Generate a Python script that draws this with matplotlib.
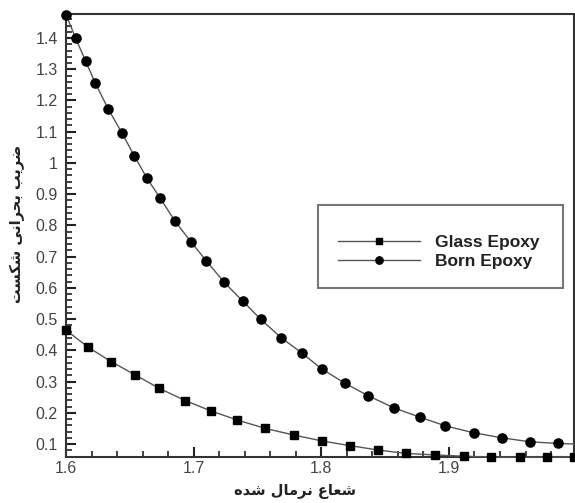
import matplotlib
matplotlib.use('Agg')
import matplotlib.pyplot as plt
from matplotlib.patches import Rectangle
from matplotlib.ticker import MultipleLocator

# Born Epoxy curve (circle symbols), last point is the curve end without a symbol
born_x = [1.600, 1.6076, 1.6155, 1.623, 1.6332, 1.6437, 1.6536, 1.6633, 1.6737,
          1.6853, 1.6978, 1.7098, 1.7239, 1.7383, 1.7524, 1.7684, 1.7849, 1.8005,
          1.8188, 1.8366, 1.8573, 1.8773, 1.8973, 1.9195, 1.9414, 1.9637, 1.9856,
          1.998]
born_y = [1.475, 1.399, 1.325, 1.255, 1.172, 1.097, 1.022, 0.952, 0.888,
          0.814, 0.748, 0.687, 0.618, 0.558, 0.500, 0.441, 0.391, 0.340,
          0.294, 0.255, 0.215, 0.186, 0.158, 0.136, 0.120, 0.107, 0.102,
          0.100]

# Glass Epoxy curve (square symbols)
glass_x = [1.600, 1.6173, 1.6353, 1.6539, 1.6732, 1.6935, 1.7135, 1.7341, 1.7561,
           1.7783, 1.8004, 1.8222, 1.8442, 1.8661, 1.8892, 1.9115, 1.9333, 1.9553,
           1.9771, 1.9982]
glass_y = [0.465, 0.410, 0.364, 0.322, 0.278, 0.239, 0.206, 0.177, 0.150,
           0.129, 0.110, 0.095, 0.081, 0.070, 0.065, 0.061, 0.058, 0.058,
           0.058, 0.059]

labels = ['Glass Epoxy', 'Born Epoxy']
xlabel = 'شعاع نرمال شده'
ylabel = 'ضریب بحرانی شکست'

# Arabic presentation forms: isolated, final, initial, medial
FORMS = {
    'ا': ('\uFE8D', '\uFE8E', None, None),
    'ب': ('\uFE8F', '\uFE90', '\uFE91', '\uFE92'),
    'ت': ('\uFE95', '\uFE96', '\uFE97', '\uFE98'),
    'ح': ('\uFEA1', '\uFEA2', '\uFEA3', '\uFEA4'),
    'د': ('\uFEA9', '\uFEAA', None, None),
    'ر': ('\uFEAD', '\uFEAE', None, None),
    'س': ('\uFEB1', '\uFEB2', '\uFEB3', '\uFEB4'),
    'ش': ('\uFEB5', '\uFEB6', '\uFEB7', '\uFEB8'),
    'ض': ('\uFEBD', '\uFEBE', '\uFEBF', '\uFEC0'),
    'ع': ('\uFEC9', '\uFECA', '\uFECB', '\uFECC'),
    'ل': ('\uFEDD', '\uFEDE', '\uFEDF', '\uFEE0'),
    'م': ('\uFEE1', '\uFEE2', '\uFEE3', '\uFEE4'),
    'ن': ('\uFEE5', '\uFEE6', '\uFEE7', '\uFEE8'),
    'ه': ('\uFEE9', '\uFEEA', '\uFEEB', '\uFEEC'),
    'ک': ('\uFB8E', '\uFB8F', '\uFB90', '\uFB91'),
    'ی': ('\uFBFC', '\uFBFD', '\uFBFE', '\uFBFF'),
}


def shape(text):
    '''Join the letters and put them in visual (left to right) order.'''
    words = []
    for word in text.split(' '):
        shaped = []
        for i, c in enumerate(word):
            iso, fin, ini, med = FORMS[c]
            prev_joins = i > 0 and FORMS[word[i - 1]][2] is not None
            next_joins = i < len(word) - 1 and ini is not None
            if prev_joins and next_joins:
                shaped.append(med)
            elif prev_joins:
                shaped.append(fin)
            elif next_joins:
                shaped.append(ini)
            else:
                shaped.append(iso)
        words.append(''.join(reversed(shaped)))
    return ' '.join(reversed(words))


plt.rcParams['font.family'] = ['Liberation Sans', 'DejaVu Sans']

fig = plt.figure(figsize=(5.75, 5.03), dpi=100)
ax = fig.add_axes([0.1148, 0.0924, 0.8835, 0.8798])

ax.plot(glass_x, glass_y, color='#555555', lw=1.0, marker='s', ms=5.8,
        mfc='black', mec='black', clip_on=False, zorder=3, label=labels[0])
ax.plot(born_x, born_y, color='#555555', lw=1.0, marker='o', ms=6.6,
        mfc='black', mec='black', markevery=list(range(len(born_x) - 1)),
        clip_on=False, zorder=3, label=labels[1])

ax.set_xlim(1.6, 1.998)
ax.set_ylim(0.06, 1.477)
ax.xaxis.set_major_locator(MultipleLocator(0.1))
ax.xaxis.set_minor_locator(MultipleLocator(0.02))
ax.yaxis.set_major_locator(MultipleLocator(0.1))
ax.yaxis.set_minor_locator(MultipleLocator(0.02))
ax.set_xticks([1.6, 1.7, 1.8, 1.9])
ax.set_xticklabels(['1.6', '1.7', '1.8', '1.9'])
yt = [0.1 * k for k in range(1, 15)]
ax.set_yticks(yt)
ax.set_yticklabels(['%g' % round(v, 1) for v in yt])

ax.tick_params(which='major', direction='in', length=7, width=1.5,
               color='#222222', labelsize=11.5, labelcolor='#444444')
ax.tick_params(which='minor', direction='in', length=4, width=1.2,
               color='#222222')
ax.tick_params(axis='y', pad=6)
ax.tick_params(axis='x', pad=3)

for side in ['left', 'bottom', 'top', 'right']:
    ax.spines[side].set_linewidth(1.5)
    ax.spines[side].set_color('#333333')

ax.set_xlabel(shape(xlabel), family='DejaVu Sans', fontweight='bold',
              fontsize=10.5, color='#222222')
ax.xaxis.set_label_coords(0.45, -0.062)
ax.set_ylabel(shape(ylabel), family='DejaVu Sans', fontweight='bold',
              fontsize=10.5, color='#222222')
ax.yaxis.set_label_coords(-0.081, 0.525)

# legend box
ax.add_patch(Rectangle((0.496, 0.381), 0.482, 0.187, transform=ax.transAxes,
                       facecolor='white', edgecolor='#777777', lw=1.5, zorder=4))
leg = ax.legend(loc='center left', bbox_to_anchor=(0.519, 0.462), frameon=False,
                borderpad=0, handlelength=4.7, handletextpad=0.86,
                labelspacing=0.2, prop={'weight': 'bold', 'size': 12.5},
                markerscale=0.8)
leg.set_zorder(5)
for t in leg.get_texts():
    t.set_color('#222222')

fig.savefig('out.png', dpi=100)
